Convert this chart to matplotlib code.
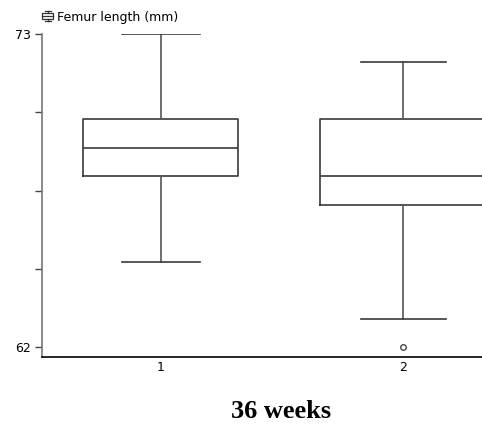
import matplotlib.pyplot as plt
from matplotlib.lines import Line2D
from matplotlib.patches import Rectangle

# values (mm)
groups = [1, 2]
whisker_low = [65.0, 63.0]
q1 = [68.0, 67.0]
median = [69.0, 68.0]
q3 = [70.0, 70.0]
whisker_high = [73.0, 72.0]
outliers = [[], [62.0]]

stats = []
for i in range(len(groups)):
    stats.append({
        'whislo': whisker_low[i], 'q1': q1[i], 'med': median[i],
        'q3': q3[i], 'whishi': whisker_high[i], 'fliers': outliers[i],
    })

W, H = 482, 428
fig = plt.figure(figsize=(W / 100, H / 100), dpi=100)
ax = fig.add_axes([42 / W, 1 - 357 / H, 480 / W, (357 - 34) / H])

line = dict(color='#3a3a3a', linewidth=1.2)
ax.bxp(stats, positions=groups, widths=[0.64, 0.69], capwidths=[0.32, 0.35],
       boxprops=line, medianprops=line,
       whiskerprops=dict(color='#555555', linewidth=1.2),
       capprops=dict(color='#3a3a3a', linewidth=1.2),
       flierprops=dict(marker='o', markersize=4, markerfacecolor='none',
                       markeredgecolor='#333333', markeredgewidth=0.9))

ax.set_xlim(0.51, 2.49)
ax.set_ylim(61.65, 73)
ax.set_yticks([73, 70.25, 67.5, 64.75, 62])
ax.set_yticklabels(['73', '', '', '', '62'], fontsize=9, family='DejaVu Sans')
ax.set_xticks(groups)
ax.set_xticklabels(['1', '2'], fontsize=9, family='DejaVu Sans')
ax.tick_params(axis='y', length=5, width=1, color='#444444', pad=3)
ax.tick_params(axis='x', length=0, pad=3)

ax.spines['top'].set_visible(False)
ax.spines['right'].set_visible(False)
ax.spines['left'].set_color('#777777')
ax.spines['left'].set_linewidth(1.2)
ax.spines['bottom'].set_color('black')
ax.spines['bottom'].set_linewidth(1.2)

# small boxplot icon before the variable name (pixel coords -> figure fraction)
def px(x, y):
    return x / W, 1 - y / H

ic = '#333333'
for (x0, y0), (x1, y1) in [((44.5, 11), (50.5, 11)), ((47.5, 11), (47.5, 13)),
                           ((47.5, 19), (47.5, 21)), ((44.5, 21), (50.5, 21)),
                           ((42, 16), (53, 16))]:
    a, b = px(x0, y0)
    c, d = px(x1, y1)
    fig.add_artist(Line2D([a, c], [b, d], color=ic, linewidth=0.9))
bx, by = px(42, 19)
fig.add_artist(Rectangle((bx, by), 11 / W, 6 / H, fill=False, edgecolor=ic,
                         linewidth=0.9, transform=fig.transFigure))

fig.text(57 / W, 1 - 17 / H, 'Femur length (mm)', fontsize=9,
         family='DejaVu Sans', va='center', ha='left')
fig.text(281 / W, 1 - 411 / H, '36 weeks', fontsize=19, fontweight='bold',
         family='Liberation Serif', ha='center', va='center')

fig.savefig('out.png', dpi=100)
